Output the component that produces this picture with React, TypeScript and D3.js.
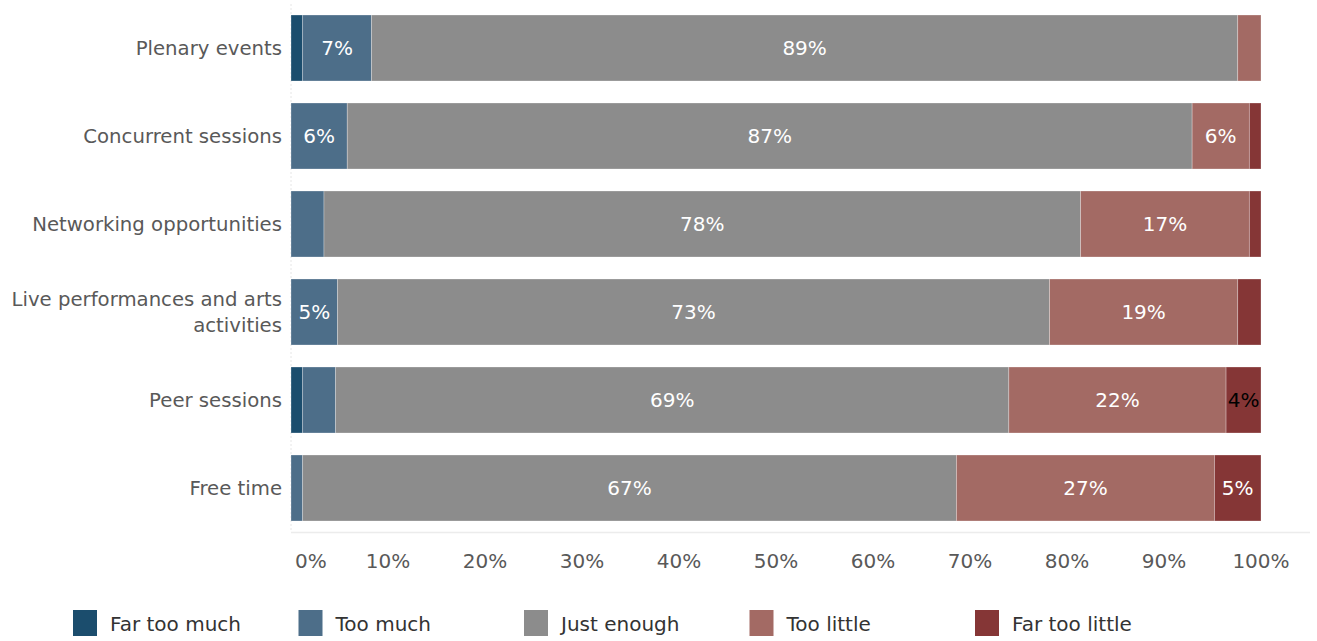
import React from "react";
import * as d3 from "d3";

const categories = [
  "Plenary events",
  "Concurrent sessions",
  "Networking opportunities",
  "Live performances and arts activities",
  "Peer sessions",
  "Free time",
];
const seriesNames = ["Far too much", "Too much", "Just enough", "Too little", "Far too little"];
const farTooMuch = [1.2, 0, 0, 0, 1.2, 0];
const tooMuch = [7.1, 5.8, 3.4, 4.8, 3.4, 1.2];
const justEnough = [89.3, 87.1, 78.0, 73.4, 69.4, 67.4];
const tooLittle = [2.4, 5.9, 17.4, 19.4, 22.4, 26.6];
const farTooLittle = [0, 1.2, 1.2, 2.4, 3.6, 4.8];
const ticks = [0, 10, 20, 30, 40, 50, 60, 70, 80, 90, 100];
const colors = ["#1b4d6d", "#4d6e89", "#8c8c8c", "#a36a64", "#853636"];

const FONT = "'DejaVu Sans', sans-serif";
const W = 1317, H = 641;

export default function App() {
  const series = [farTooMuch, tooMuch, justEnough, tooLittle, farTooLittle];
  const rows = categories.map((c, i) => {
    const r: any = { cat: c };
    seriesNames.forEach((s, k) => (r[s] = series[k][i]));
    return r;
  });
  const stacked = d3.stack<any>().keys(seriesNames)(rows);
  const x = d3.scaleLinear().domain([0, 100]).range([291, 1261]);
  const y = d3.scaleBand().domain(categories).range([4, 532]).paddingInner(0.25).paddingOuter(0.125);
  const bw = y.bandwidth();

  const catLines = (c: string) =>
    c === "Live performances and arts activities" ? ["Live performances and arts", "activities"] : [c];

  return (
    <svg width={W} height={H} style={{ position: "absolute", left: 0, top: 0, fontFamily: FONT }}>
      <rect width={W} height={H} fill="#fff" />
      <line x1={x(0)} x2={x(0)} y1={4} y2={532} stroke="#e6e6e6" strokeDasharray="2,2" />
      <line x1={x(0)} x2={1310} y1={532.5} y2={532.5} stroke="#ececec" strokeWidth={1.5} />
      {stacked.map((layer, k) => (
        <g key={layer.key}>
          {layer.map((d, i) => {
            const v = d[1] - d[0];
            if (v <= 0) return null;
            const x0 = x(d[0]);
            const x1 = x(d[1]);
            const yy = y(categories[i])!;
            const show = Math.round(v) >= 4;
            return (
              <g key={i}>
                <rect x={x0} y={yy} width={x1 - x0} height={bw} fill={colors[k]} stroke="#fff" strokeOpacity={0.35} strokeWidth={0.8} />
                {show && (
                  <text
                    x={(x0 + x1) / 2}
                    y={yy + bw / 2}
                    dy="0.35em"
                    textAnchor="middle"
                    fontSize={20}
                    fill={v < 4 ? "#000" : "#fff"}
                  >
                    {Math.round(v)}%
                  </text>
                )}
              </g>
            );
          })}
        </g>
      ))}
      {categories.map((c) => {
        const lines = catLines(c);
        const cy = y(c)! + bw / 2;
        return (
          <text key={c} x={282} textAnchor="end" fontSize={19.7} fill="#595959">
            {lines.map((l, j) => (
              <tspan key={j} x={282} y={cy + (j - (lines.length - 1) / 2) * 26} dy="0.35em">
                {l}
              </tspan>
            ))}
          </text>
        );
      })}
      {ticks.map((t, i) => (
        <text
          key={t}
          x={i === 0 ? x(t) + 4 : x(t)}
          y={561}
          dy="0.35em"
          textAnchor={i === 0 ? "start" : "middle"}
          fontSize={20}
          fill="#595959"
        >
          {t}%
        </text>
      ))}
      {seriesNames.map((s, k) => {
        const lx = 73 + k * 225.5;
        return (
          <g key={s}>
            <rect x={lx} y={610} width={24} height={26} fill={colors[k]} />
            <text x={lx + 37} y={624} dy="0.35em" fontSize={20} fill="#333">
              {s}
            </text>
          </g>
        );
      })}
    </svg>
  );
}
